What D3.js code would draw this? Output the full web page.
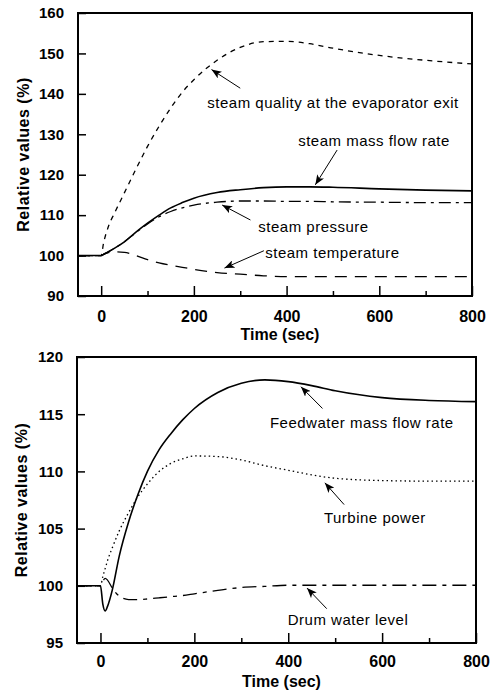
<!DOCTYPE html>
<html>
<head>
<meta charset="utf-8">
<script src="https://cdn.jsdelivr.net/npm/d3@7"></script>
<style>
  body { margin: 0; background: #fff; }
  svg { display: block; font-family: "Liberation Sans", Arial, sans-serif; }
</style>
</head>
<body>
<svg id="chart" width="493" height="693"></svg>
<script>
// upper panel: steam side response
const topTime = [-50, 0, 5, 15, 30, 50, 75, 100, 125, 150, 175, 200, 250, 300, 350, 400, 450, 500, 600, 700, 800];
const steamQuality = [100, 100, 103, 107, 110.8, 115.5, 121.4, 127, 132, 136.5, 140.4, 143.5, 148.3, 151.5, 152.9, 153.0, 152.4, 151.3, 149.5, 148.3, 147.4];
const steamMassFlow = [100, 100, 100.3, 100.9, 101.9, 103.4, 105.8, 108.0, 110.0, 111.8, 113.1, 114.2, 115.6, 116.3, 116.8, 117.0, 117.0, 116.9, 116.5, 116.2, 116.0];
const steamPressure = [100, 100, 100.3, 100.9, 101.9, 103.4, 105.7, 107.8, 109.6, 110.9, 111.8, 112.5, 113.2, 113.5, 113.5, 113.4, 113.4, 113.3, 113.2, 113.1, 113.1];
const steamTemperature = [100, 100, 100.3, 100.7, 100.9, 100.8, 100.0, 99.0, 98.2, 97.6, 97.1, 96.6, 95.8, 95.4, 95.0, 94.8, 94.8, 94.8, 94.8, 94.8, 94.8];

// lower panel: water side response
const bottomTime = [-50, 0, 5, 10, 15, 25, 40, 60, 80, 100, 125, 150, 175, 200, 250, 300, 350, 400, 450, 500, 600, 700, 800];
const feedwaterFlow = [100, 100, 98.4, 97.8, 98.2, 99.6, 102.6, 105.6, 108.0, 110.0, 111.9, 113.3, 114.5, 115.5, 116.9, 117.7, 118.0, 117.85, 117.5, 117.05, 116.45, 116.2, 116.1];
const turbinePower = [100, 100, 100.8, 101.5, 102.2, 103.3, 104.8, 106.4, 107.8, 108.9, 110.0, 110.7, 111.1, 111.35, 111.3, 111.0, 110.5, 110.1, 109.7, 109.4, 109.2, 109.15, 109.15];
const drumLevel = [100, 100, 100.4, 100.65, 100.5, 99.8, 99.1, 98.8, 98.8, 98.85, 98.95, 99.05, 99.15, 99.3, 99.6, 99.85, 99.95, 100.05, 100.05, 100.05, 100.05, 100.05, 100.05];

const xTicks = [0, 200, 400, 600, 800];
const xMinorTicks = [100, 300, 500, 700];
const topYTicks = [90, 100, 110, 120, 130, 140, 150, 160];
const bottomYTicks = [95, 100, 105, 110, 115, 120];

// labels with arrows, in data units: text start, arrow tail, arrow tip
const topNotes = [
  { text: "steam quality at the evaporator exit", at: [229, 136.5], tail: [300, 141.4], tip: [238, 146.0] },
  { text: "steam mass flow rate", at: [425, 127.1], tail: [509, 126.1], tip: [462, 117.5] },
  { text: "steam pressure", at: [339, 105.9], tail: [322, 108.8], tip: [261, 112.5] },
  { text: "steam temperature", at: [354, 99.3], tail: [351, 101.2], tip: [266, 96.9] }
];
const bottomNotes = [
  { text: "Feedwater mass flow rate", at: [361, 113.8], tail: [473, 115.5], tip: [427, 117.4] },
  { text: "Turbine power", at: [476, 105.5], tail: [519, 107.1], tip: [478, 109.0] },
  { text: "Drum water level", at: [399, 96.6], tail: [482, 98.0], tip: [440, 99.8] }
];

const svg = d3.select("#chart");

svg.append("defs").append("marker")
  .attr("id", "head")
  .attr("markerUnits", "userSpaceOnUse")
  .attr("markerWidth", 11)
  .attr("markerHeight", 8)
  .attr("refX", 10)
  .attr("refY", 4)
  .attr("orient", "auto")
  .append("path")
  .attr("d", "M0,0 L10,4 L0,8 L2.5,4 z")
  .attr("fill", "#000");

function drawPanel(p) {
  const x = d3.scaleLinear().domain([-50, 800]).range([p.left, p.right]);
  const y = d3.scaleLinear().domain(p.yDomain).range([p.bottom, p.top]);
  const g = svg.append("g");

  // x axis, ticks pointing inward
  const xa = g.append("g")
    .attr("transform", `translate(0,${p.bottom})`)
    .call(d3.axisBottom(x).tickValues(xTicks).tickSize(-10).tickSizeOuter(0).tickPadding(p.xPad));
  xa.selectAll("text").attr("font-size", 16).attr("font-weight", "bold");

  g.append("g")
    .attr("transform", `translate(0,${p.bottom})`)
    .call(d3.axisBottom(x).tickValues(xMinorTicks).tickSize(-5).tickSizeOuter(0).tickFormat(""));

  const ya = g.append("g")
    .attr("transform", `translate(${p.left},0)`)
    .call(d3.axisLeft(y).tickValues(p.yTicks).tickSize(-8).tickSizeOuter(0).tickPadding(14));
  ya.selectAll("text").attr("font-size", 15).attr("font-weight", "bold");

  g.selectAll(".domain").remove();
  g.selectAll(".tick line").attr("stroke", "#000").attr("stroke-width", 1.5);
  g.selectAll(".tick text").attr("fill", "#000").attr("font-family", null);

  // series
  const line = d3.line()
    .x((d, i) => x(p.time[i]))
    .y(d => y(d))
    .curve(d3.curveMonotoneX);

  p.series.forEach(s => {
    g.append("path")
      .datum(s.values)
      .attr("d", line)
      .attr("fill", "none")
      .attr("stroke", "#000")
      .attr("stroke-width", s.width || 1.3)
      .attr("stroke-dasharray", s.dash || null);
  });

  // frame
  g.append("rect")
    .attr("x", p.left)
    .attr("y", p.top)
    .attr("width", p.right - p.left)
    .attr("height", p.bottom - p.top)
    .attr("fill", "none")
    .attr("stroke", "#000")
    .attr("stroke-width", 2);

  // annotations
  p.notes.forEach(n => {
    g.append("line")
      .attr("x1", x(n.tail[0])).attr("y1", y(n.tail[1]))
      .attr("x2", x(n.tip[0])).attr("y2", y(n.tip[1]))
      .attr("stroke", "#000")
      .attr("stroke-width", 1)
      .attr("marker-end", "url(#head)");
    g.append("text")
      .attr("x", x(n.at[0]))
      .attr("y", y(n.at[1]))
      .attr("font-size", 15)
      .attr("letter-spacing", 0.5)
      .text(n.text);
  });

  // axis titles
  g.append("text")
    .attr("x", (p.left + p.right) / 2 + 5)
    .attr("y", p.bottom + p.titleGap)
    .attr("text-anchor", "middle")
    .attr("font-size", 16)
    .attr("font-weight", "bold")
    .text("Time (sec)");

  g.append("text")
    .attr("transform", `translate(${p.yTitleX},${(p.top + p.bottom) / 2}) rotate(-90)`)
    .attr("text-anchor", "middle")
    .attr("font-size", 16)
    .attr("font-weight", "bold")
    .attr("letter-spacing", 0.5)
    .text("Relative values (%)");
}

drawPanel({
  left: 78, right: 472, top: 13, bottom: 296,
  yDomain: [90, 160], yTicks: topYTicks, xPad: 14.5, titleGap: 44, yTitleX: 29,
  time: topTime,
  series: [
    { values: steamQuality, dash: "5,5" },
    { values: steamMassFlow, width: 1.6 },
    { values: steamPressure, dash: "12,5,3,5" },
    { values: steamTemperature, dash: "12,8" }
  ],
  notes: topNotes
});

drawPanel({
  left: 77, right: 476, top: 357, bottom: 643,
  yDomain: [95, 120], yTicks: bottomYTicks, xPad: 12.5, titleGap: 43.5, yTitleX: 27,
  time: bottomTime,
  series: [
    { values: feedwaterFlow, width: 1.6 },
    { values: turbinePower, dash: "1.5,3" },
    { values: drumLevel, dash: "14,6,4,6" }
  ],
  notes: bottomNotes
});
</script>
</body>
</html>
